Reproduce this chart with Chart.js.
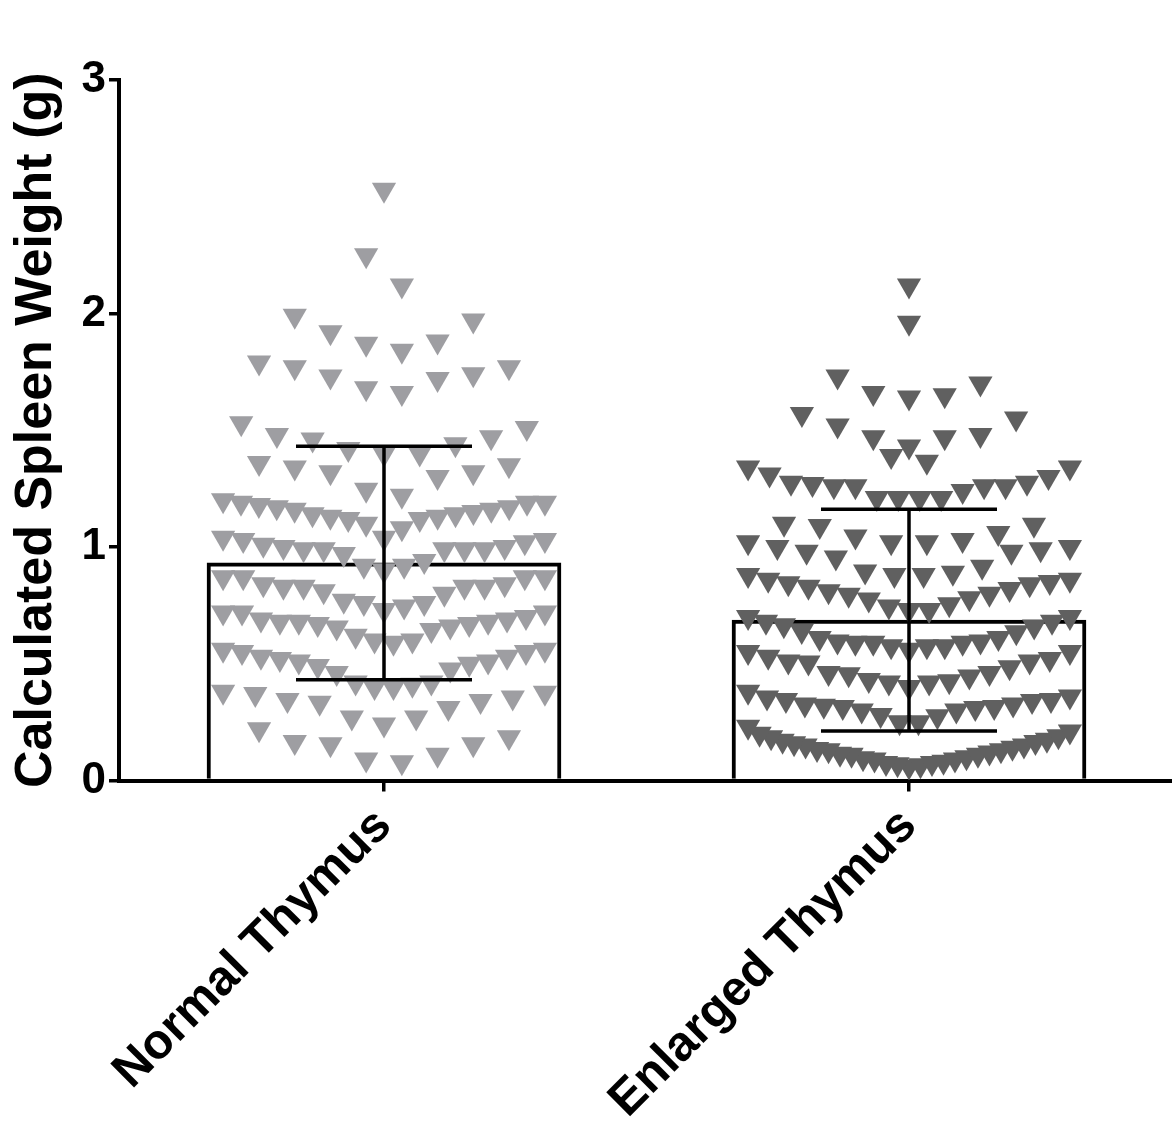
<!DOCTYPE html>
<html>
<head>
<meta charset="utf-8">
<script src="https://cdn.jsdelivr.net/npm/chart.js@4.4.1/dist/chart.umd.min.js"></script>
<style>
  html, body { margin: 0; padding: 0; background: #fff; overflow: hidden; }
  #wrap { width: 1172px; height: 1124px; position: relative; }
  #canva { display: block; }
</style>
</head>
<body>
<div id="wrap"><canvas id="canva"></canvas></div>
<script>
const categories = ["Normal Thymus", "Enlarged Thymus"];
const barMeans = [0.932, 0.687];
const barSD = [0.50, 0.475];
const yTicks = [0, 1, 2, 3];

// each inner array is one row of the dot swarm
const normalRows = [
  [2.53],
  [2.12, 2.25],
  [1.84, 1.87, 1.88, 1.92, 1.97, 1.99],
  [1.66, 1.68, 1.72, 1.73, 1.74, 1.77, 1.77, 1.79],
  [1.40, 1.40, 1.42, 1.44, 1.46, 1.47, 1.48, 1.51, 1.53],
  [1.22, 1.245, 1.30, 1.32, 1.32, 1.34, 1.35, 1.36],
  [1.04, 1.08, 1.10, 1.12, 1.12, 1.13, 1.13, 1.14, 1.14, 1.15, 1.16, 1.16, 1.17, 1.17, 1.18, 1.19, 1.19, 1.19, 1.20],
  [0.90, 0.92, 0.92, 0.94, 0.97, 0.99, 0.99, 0.99, 0.99, 0.99, 1.00, 1.00, 1.01, 1.02, 1.03, 1.03, 1.04],
  [0.73, 0.745, 0.76, 0.76, 0.77, 0.80, 0.81, 0.83, 0.83, 0.83, 0.83, 0.84, 0.84, 0.87, 0.87, 0.87, 0.87],
  [0.59, 0.60, 0.60, 0.62, 0.645, 0.655, 0.66, 0.67, 0.67, 0.68, 0.68, 0.68, 0.69, 0.69, 0.70, 0.72, 0.72, 0.72],
  [0.40, 0.40, 0.41, 0.42, 0.42, 0.46, 0.475, 0.49, 0.50, 0.51, 0.51, 0.52, 0.53, 0.53, 0.55, 0.55, 0.56, 0.56],
  [0.24, 0.27, 0.27, 0.31, 0.333, 0.34, 0.345, 0.355, 0.37, 0.376, 0.38],
  [0.078, 0.09, 0.11, 0.155, 0.155, 0.165, 0.185, 0.22]
];

const enlargedRows = [
  [2.12],
  [1.96],
  [1.64, 1.65, 1.66, 1.70, 1.73],
  [1.43, 1.47, 1.47, 1.48, 1.52, 1.55, 1.57],
  [1.365, 1.39],
  [1.21, 1.21, 1.21, 1.21, 1.24, 1.26, 1.26, 1.26, 1.26, 1.27, 1.275, 1.275, 1.30, 1.31, 1.34, 1.34],
  [1.02, 1.02, 1.03, 1.045, 1.06, 1.09, 1.095, 1.10],
  [0.88, 0.88, 0.89, 0.895, 0.915, 0.955, 0.98, 0.98, 0.99, 1.00, 1.00, 1.02],
  [0.73, 0.73, 0.745, 0.755, 0.775, 0.78, 0.795, 0.80, 0.81, 0.82, 0.83, 0.84, 0.845, 0.85, 0.86, 0.86, 0.88],
  [0.56, 0.575, 0.575, 0.575, 0.59, 0.59, 0.59, 0.595, 0.595, 0.61, 0.61, 0.635, 0.64, 0.66, 0.665, 0.68, 0.68, 0.70, 0.70],
  [0.40, 0.42, 0.42, 0.425, 0.43, 0.445, 0.455, 0.46, 0.46, 0.485, 0.505, 0.51, 0.51, 0.52, 0.53, 0.55, 0.55],
  [0.25, 0.25, 0.275, 0.28, 0.30, 0.30, 0.31, 0.315, 0.315, 0.32, 0.325, 0.325, 0.34, 0.345, 0.345, 0.355, 0.36, 0.38],
  [0.06, 0.065, 0.07, 0.075, 0.075, 0.08, 0.09, 0.09, 0.095, 0.10, 0.11, 0.11, 0.115, 0.12, 0.13, 0.13, 0.135, 0.14, 0.15, 0.15, 0.16, 0.165, 0.17, 0.175, 0.185, 0.19, 0.20, 0.21, 0.23]
];

// swarm layout (in category units): lowest value in the middle, then right/left alternately
const STEP = 0.068;
const SPREAD = 0.613;
function swarm(rows, center) {
  const pts = [];
  rows.forEach((row) => {
    const vals = row.slice().sort((a, b) => a - b);
    const n = vals.length;
    const step = n > 1 ? Math.min(STEP, SPREAD / (n - 1)) : 0;
    vals.forEach((v, i) => {
      let k;
      if (n % 2) k = i === 0 ? 0 : (i % 2 ? (i + 1) / 2 : -i / 2);
      else k = (i % 2 ? -1 : 1) * (Math.floor(i / 2) + 0.5);
      pts.push({ x: center + k * step, y: v });
    });
  });
  return pts;
}

const FONT = "'Liberation Sans', Arial, Helvetica, sans-serif";

const errorBars = {
  id: "errorBars",
  afterDatasetsDraw(chart) {
    const { ctx, scales: { x, y } } = chart;
    ctx.save();
    ctx.strokeStyle = "#000";
    ctx.lineWidth = 3.5;
    barMeans.forEach((m, i) => {
      const px = x.getPixelForValue(i);
      const top = y.getPixelForValue(m + barSD[i]);
      const bot = y.getPixelForValue(m - barSD[i]);
      ctx.beginPath();
      ctx.moveTo(px, top);
      ctx.lineTo(px, bot);
      ctx.moveTo(px - 88, top);
      ctx.lineTo(px + 88, top);
      ctx.moveTo(px - 88, bot);
      ctx.lineTo(px + 88, bot);
      ctx.stroke();
    });
    ctx.restore();
  }
};

const ctx = document.getElementById("canva");
new Chart(ctx, {
  data: {
    datasets: [
      {
        type: "scatter",
        data: swarm(normalRows, 0),
        pointStyle: "triangle",
        rotation: 180,
        pointRadius: 14,
        pointBorderWidth: 0,
        backgroundColor: "#9e9ea2",
        order: 1
      },
      {
        type: "scatter",
        data: swarm(enlargedRows, 1),
        pointStyle: "triangle",
        rotation: 180,
        pointRadius: 14,
        pointBorderWidth: 0,
        backgroundColor: "#606060",
        order: 1
      },
      {
        type: "bar",
        data: barMeans.map((m, i) => ({ x: i, y: m })),
        backgroundColor: "#fff",
        borderColor: "#000",
        borderWidth: 4,
        barThickness: 354,
        order: 2
      }
    ]
  },
  options: {
    responsive: true,
    maintainAspectRatio: false,
    devicePixelRatio: 1,
    animation: false,
    layout: { autoPadding: false, padding: { top: 80, right: 0, bottom: 0, left: 0 } },
    scales: {
      x: {
        type: "linear",
        offset: false,
        min: -0.50476,
        max: 1.50095,
        afterBuildTicks: (scale) => {
          scale.ticks = categories.map((_, i) => ({ value: i }));
        },
        afterFit: (scale) => {
          scale.height = 343.5;
          scale.paddingLeft = 0;
          scale.paddingRight = 0;
        },
        border: { display: true, color: "#000", width: 4 },
        grid: { offset: false, drawOnChartArea: false, drawTicks: true, tickLength: 11, color: "#000", lineWidth: 3.5 },
        ticks: {
          autoSkip: false,
          minRotation: 45,
          maxRotation: 45,
          padding: 6,
          color: "#000",
          font: { family: FONT, size: 49, weight: "bold" },
          callback: (v) => categories[v] ?? ""
        }
      },
      y: {
        min: 0,
        max: 3,
        afterBuildTicks: (scale) => {
          scale.ticks = yTicks.map((v) => ({ value: v }));
        },
        afterFit: (scale) => { scale.width = 119; },
        border: { display: true, color: "#000", width: 4 },
        grid: { drawOnChartArea: false, drawTicks: true, tickLength: 10, color: "#000", lineWidth: 3.5 },
        ticks: {
          padding: 3,
          color: "#000",
          font: { family: FONT, size: 44, weight: "bold" }
        },
        title: {
          display: true,
          text: "Calculated Spleen Weight (g)",
          color: "#000",
          font: { family: FONT, size: 52, weight: "bold" },
          padding: { top: 5, bottom: 0 }
        }
      }
    },
    plugins: {
      legend: { display: false },
      tooltip: { enabled: false }
    }
  },
  plugins: [errorBars]
});
</script>
</body>
</html>
